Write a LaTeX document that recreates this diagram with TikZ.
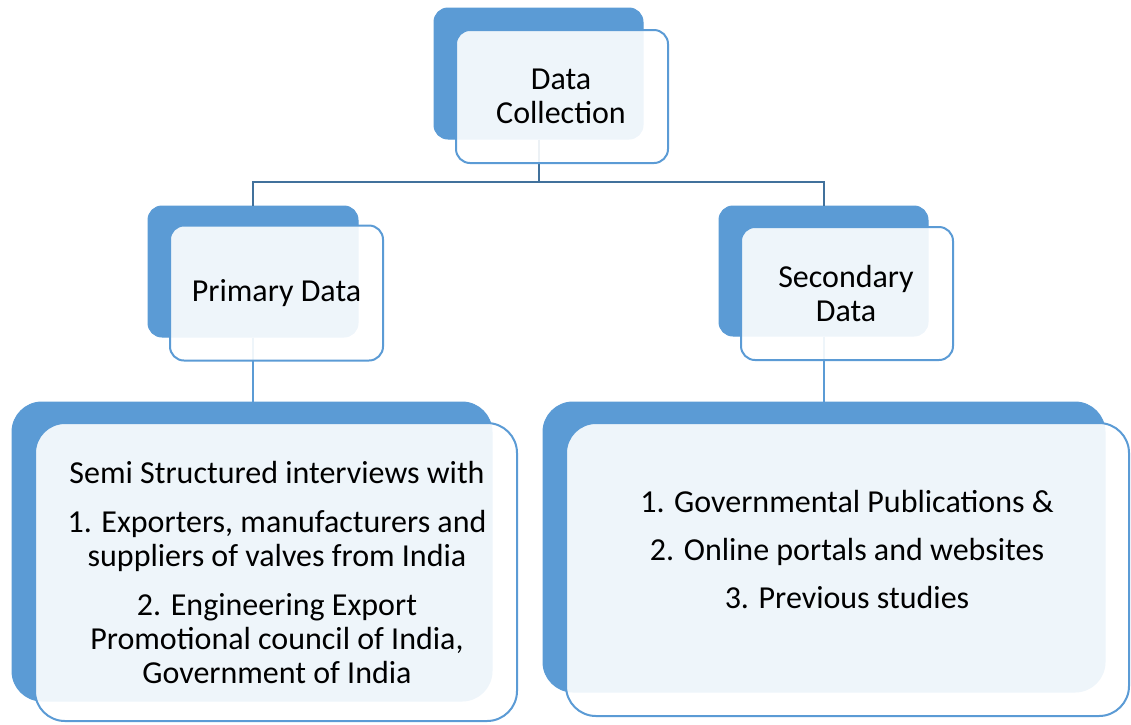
\documentclass[tikz,border=0pt]{standalone}
\usepackage{fontspec}
\setmainfont{Carlito}
\definecolor{accent}{HTML}{5B9BD5}
\definecolor{darkaccent}{HTML}{41719C}
\begin{document}
\begin{tikzpicture}[x=1pt,y=-1pt,
 backbox/.style={rectangle, fill=accent, draw=accent, line width=1pt, inner sep=0pt},
 frontbox/.style={rectangle, draw=accent, line width=2pt, fill=white, fill opacity=0.9, text opacity=1, inner sep=0pt},
 smallr/.style={rounded corners=14pt},
 bigr/.style={rounded corners=30pt},
 txt/.style={font=\fontsize{32}{34}\selectfont, align=center, text=black, inner sep=0pt},
 busline/.style={draw=darkaccent, line width=2pt},
 drop/.style={draw=accent, line width=2pt}]
\useasboundingbox (0,0) rectangle (1131,724);
% back boxes
\node[backbox, smallr, minimum width=209pt, minimum height=131pt] (dcb) at (538.5,73.5) {};
\node[backbox, smallr, minimum width=210pt, minimum height=131pt] (pdb) at (253,271.5) {};
\node[backbox, smallr, minimum width=209pt, minimum height=130pt] (sdb) at (823.5,271) {};
\node[backbox, bigr, minimum width=480pt, minimum height=299pt] (plb) at (252,551.5) {};
\node[backbox, bigr, minimum width=562pt, minimum height=290pt] (slb) at (824,547) {};
% connectors
\coordinate (bus) at (538.5,182);
\draw[busline] (dcb.south) -- (bus);
\draw[busline] (pdb.north) |- (bus) -| (sdb.north);
\draw[drop] (pdb.south) -- (pdb.south |- plb.north);
\draw[drop] (sdb.south) -- (sdb.south |- slb.north);
% front boxes
\node[frontbox, smallr, minimum width=212pt, minimum height=133pt] (dcf) at (562,96.5) {};
\node[frontbox, smallr, minimum width=213pt, minimum height=135pt] (pdf) at (276.5,293) {};
\node[frontbox, smallr, minimum width=212pt, minimum height=133pt] (sdf) at (847,293.5) {};
\node[frontbox, bigr, minimum width=482pt, minimum height=298pt] (plf) at (276,572) {};
\node[frontbox, bigr, minimum width=563pt, minimum height=293pt] (slf) at (847.5,569.5) {};
% texts
\node[txt] (dct) at (561,96) {Data\\Collection};
\node[txt] (pdt) at (276.5,293) {Primary Data};
\node[txt] (sdt) at (846,293) {Secondary\\Data};
\node[txt] (plt) at (277,572) {Semi Structured interviews with\\[15pt]1. Exporters, manufacturers and\\suppliers of valves from India\\[15pt]2. Engineering Export\\Promotional council of India,\\Government of India};
\node[txt] (slt) at (847,550) {1. Governmental Publications \&\\[14pt]2. Online portals and websites\\[14pt]3. Previous studies};
\end{tikzpicture}
\end{document}
